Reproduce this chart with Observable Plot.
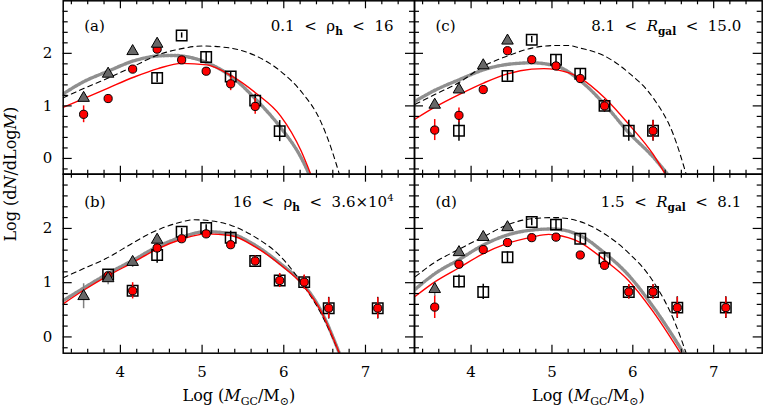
<!DOCTYPE html>
<html><head><meta charset="utf-8">
<script src="https://cdn.jsdelivr.net/npm/d3@7"></script>
<script src="https://cdn.jsdelivr.net/npm/@observablehq/plot@0.6"></script>
<style>
body{margin:0;background:#fff}
#chart{position:relative;width:763px;height:408px;overflow:hidden}
#chart svg{position:absolute;left:0;top:0;overflow:visible;background:none}
</style></head><body><div id="chart"></div><script>
// ---------- tick values ----------
const xMajor = [4, 5, 6, 7];
const xMinor = [3.4, 3.6, 3.8, 4.2, 4.4, 4.6, 4.8, 5.2, 5.4, 5.6, 5.8, 6.2, 6.4, 6.6, 6.8, 7.2, 7.4];
const yMajor = [0, 1, 2];
const yMinor = [-0.2, 0.2, 0.4, 0.6, 0.8, 1.2, 1.4, 1.6, 1.8, 2.2, 2.4, 2.6, 2.8];

// ---------- panel (a) ----------
const aTriX = [3.55, 3.85, 4.15, 4.45];
const aTriY = [1.15, 1.61, 2.04, 2.18];
const aTriE = [0.06, 0.05, 0.04, 0.04];
const aCirX = [3.55, 3.85, 4.15, 4.45, 4.75, 5.05, 5.35, 5.65];
const aCirY = [0.84, 1.14, 1.70, 2.08, 1.875, 1.66, 1.42, 0.99];
const aCirE = [0.16, 0.06, 0.04, 0.03, 0.04, 0.05, 0.13, 0.15];
const aSqX = [4.45, 4.75, 5.05, 5.35, 5.65, 5.95];
const aSqY = [1.53, 2.34, 1.93, 1.56, 1.10, 0.52];
const aSqE = [0.09, 0.05, 0.09, 0.09, 0.12, 0.2];
const aRedX = [3.30, 3.55, 3.85, 4.17, 4.46, 4.75, 5.06, 5.35, 5.66, 5.96, 6.21, 6.33];
const aRedY = [0.97, 1.14, 1.34, 1.55, 1.71, 1.81, 1.78, 1.58, 1.24, 0.81, 0.15, -0.3];
const aGrayX = [3.30, 3.55, 3.85, 4.17, 4.46, 4.65, 5.06, 5.35, 5.66, 5.96, 6.21, 6.31];
const aGrayY = [1.23, 1.46, 1.66, 1.86, 1.95, 1.96, 1.82, 1.57, 1.12, 0.59, 0.02, -0.3];
const aDashX = [3.30, 3.55, 3.85, 4.17, 4.46, 4.75, 5.0, 5.35, 5.66, 5.96, 6.21, 6.45, 6.59, 6.68];
const aDashY = [1.155, 1.33, 1.53, 1.76, 1.97, 2.09, 2.14, 2.10, 1.95, 1.66, 1.28, 0.71, 0.15, -0.3];

// ---------- panel (b) ----------
const bTriX = [3.55, 3.85, 4.15, 4.45];
const bTriY = [0.75, 1.08, 1.38, 1.79];
const bTriE = [0.23, 0.12, 0.1, 0.06];
const bCirX = [3.85, 4.15, 4.45, 4.75, 5.05, 5.35, 5.65, 5.95, 6.25, 6.55, 7.15];
const bCirY = [1.13, 0.85, 1.64, 1.81, 1.90, 1.70, 1.40, 1.04, 1.01, 0.53, 0.53];
const bCirE = [0.06, 0.15, 0.08, 0.05, 0.04, 0.07, 0.09, 0.13, 0.13, 0.19, 0.19];
const bSqX = [3.85, 4.15, 4.45, 4.75, 5.05, 5.35, 5.65, 5.95, 6.25, 6.55, 7.15];
const bSqY = [1.15, 0.85, 1.51, 1.94, 2.01, 1.83, 1.40, 1.04, 1.01, 0.53, 0.53];
const bSqE = [0.06, 0.1, 0.15, 0.06, 0.06, 0.12, 0.08, 0.12, 0.12, 0.2, 0.2];
const bRedX = [3.30, 3.55, 3.85, 4.15, 4.45, 4.75, 5.05, 5.35, 5.65, 5.95, 6.25, 6.45, 6.68];
const bRedY = [0.61, 0.86, 1.13, 1.37, 1.62, 1.80, 1.90, 1.87, 1.66, 1.34, 0.93, 0.49, -0.3];
const bGrayX = [3.30, 3.55, 3.85, 4.15, 4.45, 4.75, 5.05, 5.35, 5.65, 5.95, 6.25, 6.45, 6.68];
const bGrayY = [0.67, 0.90, 1.17, 1.41, 1.66, 1.84, 1.94, 1.90, 1.69, 1.36, 0.95, 0.50, -0.3];
const bDashX = [3.30, 3.55, 3.83, 4.15, 4.32, 4.50, 4.70, 4.90, 5.05, 5.35, 5.65, 5.95, 6.25, 6.45, 6.68];
const bDashY = [1.09, 1.26, 1.45, 1.73, 1.875, 2.0, 2.10, 2.16, 2.15, 2.06, 1.84, 1.50, 0.93, 0.45, -0.3];

// ---------- panel (c) ----------
const cTriX = [3.55, 3.85, 4.15, 4.45];
const cTriY = [1.02, 1.31, 1.77, 2.24];
const cTriE = [0.05, 0.05, 0.04, 0.04];
const cCirX = [3.55, 3.85, 4.15, 4.45, 4.75, 5.05, 5.35, 5.65, 6.25];
const cCirY = [0.54, 0.82, 1.31, 2.05, 1.88, 1.76, 1.52, 1.0, 0.525];
const cCirE = [0.2, 0.14, 0.05, 0.04, 0.04, 0.05, 0.08, 0.1, 0.19];
const cSqX = [3.85, 4.45, 4.75, 5.05, 5.35, 5.65, 5.95, 6.25];
const cSqY = [0.525, 1.57, 2.26, 1.88, 1.61, 1.0, 0.525, 0.525];
const cSqE = [0.2, 0.1, 0.06, 0.1, 0.1, 0.12, 0.2, 0.2];
const cRedX = [3.31, 3.556, 3.856, 4.16, 4.45, 4.75, 4.9, 5.05, 5.35, 5.65, 5.95, 6.25, 6.40];
const cRedY = [0.75, 0.98, 1.22, 1.44, 1.61, 1.70, 1.71, 1.69, 1.53, 1.155, 0.65, 0.08, -0.3];
const cGrayX = [3.31, 3.556, 3.856, 4.16, 4.45, 4.75, 5.05, 5.35, 5.65, 5.95, 6.25, 6.43];
const cGrayY = [1.09, 1.30, 1.50, 1.69, 1.79, 1.82, 1.76, 1.48, 1.03, 0.49, 0.03, -0.3];
const cDashX = [3.31, 3.556, 3.856, 4.16, 4.45, 4.75, 5.05, 5.2, 5.35, 5.65, 5.95, 6.25, 6.50, 6.66];
const cDashY = [1.03, 1.22, 1.45, 1.76, 1.95, 2.10, 2.15, 2.15, 2.10, 1.95, 1.63, 1.155, 0.46, -0.3];

// ---------- panel (d) ----------
const dTriX = [3.55, 3.85, 4.15, 4.45];
const dTriY = [0.88, 1.56, 1.84, 2.02];
const dTriE = [0.13, 0.05, 0.04, 0.04];
const dCirX = [3.55, 3.85, 4.15, 4.45, 4.75, 5.05, 5.35, 5.65, 5.95, 6.25, 6.55, 7.15];
const dCirY = [0.55, 1.34, 1.61, 1.74, 1.83, 1.84, 1.51, 1.32, 0.83, 0.83, 0.54, 0.54];
const dCirE = [0.21, 0.05, 0.04, 0.04, 0.03, 0.03, 0.04, 0.08, 0.13, 0.13, 0.19, 0.19];
const dSqX = [3.85, 4.15, 4.45, 4.75, 5.05, 5.35, 5.65, 5.95, 6.25, 6.55, 7.15];
const dSqY = [1.02, 0.83, 1.47, 2.12, 2.07, 1.81, 1.45, 0.83, 0.83, 0.54, 0.54];
const dSqE = [0.12, 0.14, 0.1, 0.07, 0.1, 0.1, 0.12, 0.13, 0.13, 0.2, 0.2];
const dRedX = [3.31, 3.556, 3.856, 4.145, 4.44, 4.75, 4.96, 5.04, 5.34, 5.64, 5.94, 6.24, 6.59];
const dRedY = [0.75, 1.02, 1.28, 1.53, 1.72, 1.84, 1.89, 1.88, 1.75, 1.43, 1.05, 0.49, -0.3];
const dGrayX = [3.31, 3.556, 3.856, 4.145, 4.44, 4.75, 5.0, 5.34, 5.64, 5.94, 6.24, 6.63];
const dGrayY = [0.88, 1.17, 1.43, 1.69, 1.875, 1.97, 1.99, 1.875, 1.56, 1.15, 0.58, -0.3];
const dDashX = [3.31, 3.556, 3.856, 4.145, 4.44, 4.75, 5.04, 5.34, 5.64, 5.94, 6.24, 6.53, 6.66];
const dDashY = [1.11, 1.38, 1.62, 1.84, 2.06, 2.18, 2.20, 2.13, 1.91, 1.56, 1.05, 0.23, -0.3];

// ---------- labels ----------
const panelTags = ["(a)", "(b)", "(c)", "(d)"];
const rangeLabels = ["0.1 < ρh < 16", "16 < ρh < 3.6×10^4", "8.1 < Rgal < 15.0", "1.5 < Rgal < 8.1"];
const xTitle = "Log (MGC/M⊙)";
const yTitle = "Log (dN/dLogM)";

const S = "\u00A0";
const subT = (s) => `<tspan dy="4" font-size="10.5" font-weight="bold">${s}</tspan><tspan dy="-4">`;
const rich = {
  "0.1 < ρh < 16": `0.1${S}${S}&lt;${S}${S}ρ${subT("h")}${S}${S}&lt;${S}${S}16</tspan>`,
  "16 < ρh < 3.6×10^4": `16${S}${S}&lt;${S}${S}ρ${subT("h")}${S}${S}&lt;${S}${S}3.6×10</tspan><tspan dy="-6" font-size="10">4</tspan>`,
  "8.1 < Rgal < 15.0": `8.1${S}${S}&lt;${S}${S}<tspan font-style="italic">R</tspan>${subT("gal")}${S}${S}&lt;${S}${S}15.0</tspan>`,
  "1.5 < Rgal < 8.1": `1.5${S}${S}&lt;${S}${S}<tspan font-style="italic">R</tspan>${subT("gal")}${S}${S}&lt;${S}${S}8.1</tspan>`,
  "Log (MGC/M⊙)": `Log${S}(<tspan font-style="italic">M</tspan><tspan dy="4" font-size="11">GC</tspan><tspan dy="-4">/M</tspan><tspan dy="4" font-size="11">⊙</tspan><tspan dy="-4">)</tspan>`,
  "Log (dN/dLogM)": `Log${S}(d<tspan font-style="italic">N</tspan>/dLog<tspan font-style="italic">M</tspan>)`
};

const panels = [
  {col: 0, row: 0, tri: [aTriX, aTriY, aTriE], cir: [aCirX, aCirY, aCirE], sq: [aSqX, aSqY, aSqE], red: [aRedX, aRedY], gray: [aGrayX, aGrayY], dash: [aDashX, aDashY]},
  {col: 0, row: 1, tri: [bTriX, bTriY, bTriE], cir: [bCirX, bCirY, bCirE], sq: [bSqX, bSqY, bSqE], red: [bRedX, bRedY], gray: [bGrayX, bGrayY], dash: [bDashX, bDashY]},
  {col: 1, row: 0, tri: [cTriX, cTriY, cTriE], cir: [cCirX, cCirY, cCirE], sq: [cSqX, cSqY, cSqE], red: [cRedX, cRedY], gray: [cGrayX, cGrayY], dash: [cDashX, cDashY]},
  {col: 1, row: 1, tri: [dTriX, dTriY, dTriE], cir: [dCirX, dCirY, dCirE], sq: [dSqX, dSqY, dSqE], red: [dRedX, dRedY], gray: [dGrayX, dGrayY], dash: [dDashX, dDashY]}
];

const idx = (arr) => arr.map((_, i) => i);
const pts = ([X, Y, E]) => idx(X).map(i => ({x: X[i], y: Y[i], e: E ? E[i] : 0}));

function errBars(data, color) {
  return Plot.ruleX(data, {x: "x", y1: d => d.y - d.e, y2: d => d.y + d.e, stroke: color, strokeWidth: 1.5});
}
function curve(c, opts) {
  return Plot.line(pts([c[0], c[1]]), {x: "x", y: "y", curve: "monotone-x", clip: true, ...opts});
}

const chart = document.getElementById("chart");
panels.forEach((p, k) => {
  const L = p.col ? 414 : 62.7, R = p.col ? 761.7 : 414;
  const T = p.row ? 173.7 : 0.3, B = p.row ? 352.7 : 173.7;
  const W = R - L, H = B - T;
  const tri = pts(p.tri), cir = pts(p.cir), sq = pts(p.sq);
  const marks = [
    curve(p.gray, {stroke: "#8f8f8f", strokeWidth: 3.4, strokeDasharray: "2,1.6"}),
    curve(p.dash, {stroke: "black", strokeWidth: 1.1, strokeDasharray: "5,4"}),
    curve(p.red, {stroke: "#ff0000", strokeWidth: 1.4}),
    errBars(sq, "black"),
    Plot.dot(sq, {x: "x", y: "y", symbol: "square", r: 5.9, stroke: "black", strokeWidth: 1.5, fill: "none"}),
    errBars(cir, "#ff0000"),
    Plot.dot(cir, {x: "x", y: "y", symbol: "circle", r: 4.1, fill: "#ff0000", stroke: "black", strokeWidth: 1}),
    errBars(tri, "#808080"),
    Plot.dot(tri, {x: "x", y: "y", symbol: "triangle", r: 4.3, fill: "#676767", stroke: "black", strokeWidth: 1}),
    // ticks, all pointing inward on every side
    Plot.tickX(xMajor, {x: d => d, insetTop: H - 8, stroke: "black", strokeWidth: 1.2}),
    Plot.tickX(xMajor, {x: d => d, insetBottom: H - 8, stroke: "black", strokeWidth: 1.2}),
    Plot.tickX(xMinor, {x: d => d, insetTop: H - 4, stroke: "black", strokeWidth: 1.2}),
    Plot.tickX(xMinor, {x: d => d, insetBottom: H - 4, stroke: "black", strokeWidth: 1.2}),
    Plot.tickY(yMajor, {y: d => d, insetRight: W - 9, stroke: "black", strokeWidth: 1.2}),
    Plot.tickY(yMajor, {y: d => d, insetLeft: W - 9, stroke: "black", strokeWidth: 1.2}),
    Plot.tickY(yMinor, {y: d => d, insetRight: W - 5, stroke: "black", strokeWidth: 1.2}),
    Plot.tickY(yMinor, {y: d => d, insetLeft: W - 5, stroke: "black", strokeWidth: 1.2}),
    Plot.frame({stroke: "black", strokeWidth: 1.5}),
    Plot.text([panelTags[k]], {frameAnchor: "top-left", dx: 21, dy: p.row ? 28 : 25, lineAnchor: "middle", textAnchor: "start", fontSize: 15}),
    Plot.text([rangeLabels[k]], {frameAnchor: "top-right", dx: -21, dy: p.row ? 28 : 25, lineAnchor: "middle", textAnchor: "end", fontSize: 15})
  ];
  if (p.col === 0) {
    marks.push(Plot.axisY(yMajor, {anchor: "left", tickSize: 0, tickPadding: 11, fontSize: 15, label: null, tickFormat: d => String(d)}));
  }
  if (p.row === 1) {
    marks.push(Plot.axisX(xMajor, {anchor: "bottom", tickSize: 0, tickPadding: 13, fontSize: 15, label: null, tickFormat: d => String(d)}));
    marks.push(Plot.text([xTitle], {frameAnchor: "bottom", dy: 43, lineAnchor: "middle", textAnchor: "middle", fontSize: 16}));
  }
  if (p.col === 0 && p.row === 0) {
    marks.push(Plot.text([yTitle], {frameAnchor: "bottom-left", dx: -52, dy: 0, rotate: -90, lineAnchor: "middle", textAnchor: "middle", fontSize: 16}));
  }
  const svg = Plot.plot({
    width: 763, height: 408,
    marginLeft: L, marginRight: 763 - R, marginTop: T, marginBottom: 408 - B,
    x: {domain: [3.3, 7.6], axis: null},
    y: {domain: [-0.3, 3.0], axis: null},
    style: {fontFamily: "'DejaVu Serif', serif", fontSize: "15px", background: "none", overflow: "visible", color: "black"},
    marks
  });
  svg.querySelectorAll("text").forEach(t => {
    const key = t.textContent;
    if (rich[key]) t.innerHTML = rich[key];
  });
  chart.appendChild(svg);
});
</script></body></html>
